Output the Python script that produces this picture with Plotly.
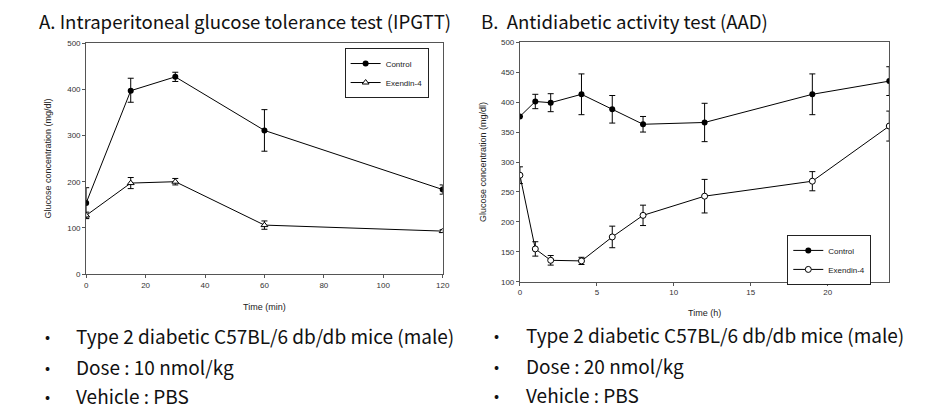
import plotly.graph_objects as go

# ---- Data: A. IPGTT ----
ipgtt_time = [0, 15, 30, 60, 120]
ipgtt_control = [154, 397, 427, 311, 183]
ipgtt_control_err_plus = [33, 27, 10, 45, 10]
ipgtt_control_err_minus = [33, 25, 10, 45, 10]
ipgtt_exendin = [127, 197, 200, 106, 93]
ipgtt_exendin_err = [7, 12, 7, 9, 3]

# ---- Data: B. AAD ----
aad_time = [0, 1, 2, 4, 6, 8, 12, 19, 24]
aad_control = [376, 401, 399, 413, 388, 363, 366, 413, 435]
aad_control_err = [0, 12, 15, 34, 23, 13, 32, 34, 24]
aad_exendin = [278, 155, 136, 135, 175, 211, 243, 268, 360]
aad_exendin_err = [14, 12, 8, 6, 18, 17, 28, 16, 25]

left_ticks_x = [0, 20, 40, 60, 80, 100, 120]
left_ticks_y = [0, 100, 200, 300, 400, 500]
right_ticks_x = [0, 5, 10, 15, 20]
right_ticks_y = [100, 150, 200, 250, 300, 350, 400, 450, 500]

bullets_left = ["Type 2 diabetic C57BL/6 db/db mice (male)", "Dose : 10 nmol/kg", "Vehicle : PBS"]
bullets_right = ["Type 2 diabetic C57BL/6 db/db mice (male)", "Dose : 20 nmol/kg", "Vehicle : PBS"]

W, H = 925, 418
def px(x):
    return x / W
def py(y):
    return 1 - y / H

fig = go.Figure()

eb = dict(color="black", thickness=1, width=3)

fig.add_trace(go.Scatter(
    x=ipgtt_time, y=ipgtt_control, mode="lines+markers", name="Control",
    line=dict(color="black", width=1),
    marker=dict(symbol="circle", size=6, color="black"),
    error_y=dict(type="data", array=ipgtt_control_err_plus, arrayminus=ipgtt_control_err_minus, symmetric=False, **eb),
    xaxis="x", yaxis="y", legend="legend"))
fig.add_trace(go.Scatter(
    x=ipgtt_time, y=ipgtt_exendin, mode="lines+markers", name="Exendin-4",
    line=dict(color="black", width=1),
    marker=dict(symbol="triangle-up", size=6, color="white", line=dict(color="black", width=1)),
    error_y=dict(type="data", array=ipgtt_exendin_err, **eb),
    xaxis="x", yaxis="y", legend="legend"))

fig.add_trace(go.Scatter(
    x=aad_time, y=aad_control, mode="lines+markers", name="Control",
    line=dict(color="black", width=1),
    marker=dict(symbol="circle", size=6, color="black"),
    error_y=dict(type="data", array=aad_control_err, **eb),
    xaxis="x2", yaxis="y2", legend="legend2"))
fig.add_trace(go.Scatter(
    x=aad_time, y=aad_exendin, mode="lines+markers", name="Exendin-4",
    line=dict(color="black", width=1),
    marker=dict(symbol="circle", size=6, color="white", line=dict(color="black", width=1)),
    error_y=dict(type="data", array=aad_exendin_err, **eb),
    xaxis="x2", yaxis="y2", legend="legend2"))

tickfont = dict(family="Liberation Sans", size=8, color="#333")
axis_common = dict(showline=True, linecolor="#555", linewidth=1, mirror=True,
                   ticks="outside", ticklen=3, tickcolor="#555", tickfont=tickfont,
                   showgrid=False, zeroline=False, fixedrange=True)
titlefont = dict(family="Liberation Sans", size=9, color="#222")

fig.update_layout(
    width=W, height=H,
    margin=dict(l=0, r=0, t=0, b=0),
    paper_bgcolor="white", plot_bgcolor="white",
    showlegend=True,
    xaxis=dict(domain=[px(85), px(445)], range=[0, 120], tickvals=left_ticks_x,
               anchor="y", title=dict(text="Time (min)", font=titlefont, standoff=15), **axis_common),
    yaxis=dict(domain=[py(276), py(40)], range=[0, 500], tickvals=left_ticks_y,
               anchor="x", title=dict(text="Glucose concentration (mg/dl)", font=titlefont, standoff=14), **axis_common),
    xaxis2=dict(domain=[px(523), px(896)], range=[0, 24], tickvals=right_ticks_x,
                anchor="y2", title=dict(text="Time (h)", font=titlefont, standoff=13), **axis_common),
    yaxis2=dict(domain=[py(284), py(39)], range=[100, 500], tickvals=right_ticks_y,
                anchor="x2", title=dict(text="Glucose concentration (mg/dl)", font=titlefont, standoff=12), **axis_common),
    legend=dict(x=px(346), y=py(45), xanchor="left", yanchor="top",
                bgcolor="white", bordercolor="#222", borderwidth=1,
                font=dict(family="Liberation Sans", size=8, color="#222"),
                tracegroupgap=0, itemwidth=30),
    legend2=dict(x=px(793), y=py(236), xanchor="left", yanchor="top",
                 bgcolor="white", bordercolor="#222", borderwidth=1,
                 font=dict(family="Liberation Sans", size=8, color="#222"),
                 tracegroupgap=0, itemwidth=30),
)

titlefont_big = dict(family="Noto Sans CJK KR", size=18.6, color="#111")
bigfont = dict(family="Noto Sans CJK KR", size=19, color="#111")
dotfont = dict(family="Noto Sans CJK KR", size=15, color="#111")
fig.add_annotation(x=px(35), y=py(17), xref="paper", yref="paper", xanchor="left", yanchor="middle",
                   text="A. Intraperitoneal glucose tolerance test (IPGTT)", showarrow=False, font=titlefont_big)
fig.add_annotation(x=px(482), y=py(17), xref="paper", yref="paper", xanchor="left", yanchor="middle",
                   text="B.  Antidiabetic activity test (AAD)", showarrow=False, font=titlefont_big)

rows_left = [339, 370, 400]
rows_right = [338, 369, 399]
for t, yy in zip(bullets_left, rows_left):
    fig.add_annotation(x=px(46), y=py(yy), xref="paper", yref="paper", xanchor="center", yanchor="middle",
                       text="•", showarrow=False, font=dotfont)
    fig.add_annotation(x=px(73), y=py(yy), xref="paper", yref="paper", xanchor="left", yanchor="middle",
                       text=t, showarrow=False, font=bigfont)
for t, yy in zip(bullets_right, rows_right):
    fig.add_annotation(x=px(499), y=py(yy), xref="paper", yref="paper", xanchor="center", yanchor="middle",
                       text="•", showarrow=False, font=dotfont)
    fig.add_annotation(x=px(527), y=py(yy), xref="paper", yref="paper", xanchor="left", yanchor="middle",
                       text=t, showarrow=False, font=bigfont)

fig.write_html("out.html", config={"displayModeBar": False},
               post_script="document.body.style.margin='0';document.body.style.overflow='hidden';")
